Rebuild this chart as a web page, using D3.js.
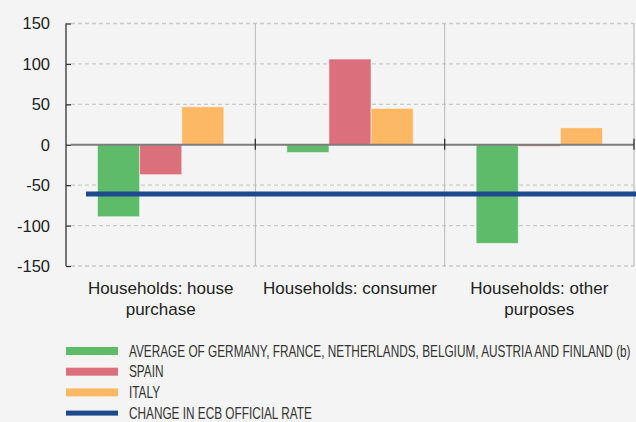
<!DOCTYPE html>
<html>
<head>
<meta charset="utf-8">
<script src="https://cdn.jsdelivr.net/npm/d3@7"></script>
<style>
  body { margin: 0; background: #f4f4f4; }
  svg { display: block; }
  .tick-label { font-family: "Liberation Sans", Arial, sans-serif; font-size: 16.5px; fill: #222; }
  .cat-label { font-family: "Liberation Sans", Arial, sans-serif; font-size: 17px; fill: #222; }
  .legend-label { font-family: "Liberation Sans", Arial, sans-serif; font-size: 16px; fill: #333; }
</style>
</head>
<body>
<script>
// categories and series
var categories = ["house", "consumer", "other"];
var categoryLabels = [["Households: house", "purchase"], ["Households: consumer"], ["Households: other", "purposes"]];
var seriesNames = ["AVERAGE OF GERMANY, FRANCE, NETHERLANDS, BELGIUM, AUSTRIA AND FINLAND (b)", "SPAIN", "ITALY"];
var avgValues = [-89, -9.5, -122];
var spainValues = [-37, 106, -2];
var italyValues = [47, 45, 21];
var ecbRate = -61;
var yTicks = [-150, -100, -50, 0, 50, 100, 150];
var lineName = "CHANGE IN ECB OFFICIAL RATE";

var colors = ["#5ebb6a", "#dc6f7c", "#fdb865"];
var lineColor = "#1c4a8c";

var w = 636, h = 422;

var svg = d3.select("body").append("svg")
    .attr("width", w)
    .attr("height", h);

svg.append("rect").attr("width", w).attr("height", h).attr("fill", "#f4f4f4");

var x = d3.scaleBand().domain(categories).range([66, 634]);
var y = d3.scaleLinear().domain([-150, 150]).range([266, 23.5]);
var x1 = d3.scaleBand().domain([0, 1, 2]).range([31.5, x.bandwidth() - 31.5]);

// gridlines
svg.append("g").selectAll("line")
    .data(yTicks.filter(function(d) { return d !== 0; }))
    .enter().append("line")
    .attr("x1", 71).attr("x2", 634)
    .attr("y1", function(d) { return y(d); })
    .attr("y2", function(d) { return y(d); })
    .attr("stroke", "#c9c9c9")
    .attr("stroke-width", 1.3)
    .attr("stroke-dasharray", "4,3");

// category dividers
svg.append("g").selectAll("line")
    .data(categories)
    .enter().append("line")
    .attr("x1", function(d) { return x(d) + x.bandwidth(); })
    .attr("x2", function(d) { return x(d) + x.bandwidth(); })
    .attr("y1", y(150)).attr("y2", y(-150))
    .attr("stroke", "#b8b8bc")
    .attr("stroke-width", 1);

// bars
var table = [avgValues, spainValues, italyValues];
var bars = [];
table.forEach(function(vals, s) {
    vals.forEach(function(v, i) { bars.push({ s: s, cat: categories[i], v: v }); });
});

svg.append("g").selectAll("rect")
    .data(bars)
    .enter().append("rect")
    .attr("x", function(d) { return x(d.cat) + x1(d.s); })
    .attr("width", x1.bandwidth())
    .attr("y", function(d) { return y(Math.max(0, d.v)); })
    .attr("height", function(d) { return Math.abs(y(d.v) - y(0)); })
    .attr("fill", function(d) { return colors[d.s]; })
    .attr("stroke", "rgba(255,255,255,0.45)")
    .attr("stroke-width", 1);

// zero line
svg.append("line")
    .attr("x1", 71).attr("x2", 634)
    .attr("y1", y(0)).attr("y2", y(0))
    .attr("stroke", "#7c7c7c")
    .attr("stroke-width", 2);

// ticks on the zero line at category boundaries
svg.append("g").selectAll("line")
    .data(categories)
    .enter().append("line")
    .attr("x1", function(d) { return x(d) + x.bandwidth(); })
    .attr("x2", function(d) { return x(d) + x.bandwidth(); })
    .attr("y1", y(0) - 6).attr("y2", y(0) + 5)
    .attr("stroke", "#333")
    .attr("stroke-width", 1.3);

// ECB rate line
svg.append("line")
    .attr("x1", x(categories[0]) + 20).attr("x2", w)
    .attr("y1", y(ecbRate)).attr("y2", y(ecbRate))
    .attr("stroke", lineColor)
    .attr("stroke-width", 5);

// y axis
var yAxis = svg.append("g")
    .attr("transform", "translate(66,0)")
    .call(d3.axisRight(y).tickValues(yTicks).tickSize(5).tickFormat(""));
yAxis.select(".domain").attr("stroke", "#333").attr("stroke-width", 1.3).attr("d", "M0," + y(150) + "V" + y(-150));
yAxis.selectAll(".tick line").attr("stroke", "#333").attr("stroke-width", 1.3);

svg.append("g").selectAll("text")
    .data(yTicks)
    .enter().append("text")
    .attr("class", "tick-label")
    .attr("x", 50)
    .attr("y", function(d) { return y(d); })
    .attr("dy", "0.36em")
    .attr("text-anchor", "end")
    .text(function(d) { return d; });

// category labels
var catText = svg.append("g").selectAll("text")
    .data(categories)
    .enter().append("text")
    .attr("class", "cat-label")
    .attr("text-anchor", "middle")
    .attr("x", function(d) { return x(d) + x.bandwidth() / 2; })
    .attr("y", 294);

catText.selectAll("tspan")
    .data(function(d, i) { return categoryLabels[i]; })
    .enter().append("tspan")
    .attr("x", function() { return d3.select(this.parentNode).attr("x"); })
    .attr("dy", function(d, i) { return i === 0 ? 0 : 21; })
    .text(function(d) { return d; });

// legend
var legendItems = seriesNames.map(function(n, i) { return { name: n, color: colors[i], line: false }; });
legendItems.push({ name: lineName, color: lineColor, line: true });

var legend = svg.append("g").selectAll("g")
    .data(legendItems)
    .enter().append("g")
    .attr("transform", function(d, i) { return "translate(66," + (351 + i * 20.7) + ")"; });

legend.append("rect")
    .attr("x", 0).attr("width", 52)
    .attr("y", function(d) { return d.line ? -2.5 : -4; })
    .attr("height", function(d) { return d.line ? 5 : 8; })
    .attr("fill", function(d) { return d.color; });

// condensed look: squeeze horizontally so the longest entry fits like the original
var legendText = legend.append("g")
    .attr("transform", "translate(63,0)")
    .append("text")
    .attr("class", "legend-label")
    .attr("dy", "0.36em")
    .text(function(d) { return d.name; });

var longest = d3.max(legendText.nodes(), function(n) { return n.getComputedTextLength(); });
var squeeze = 502 / longest;
legendText.attr("transform", "scale(" + squeeze + ",1)");
</script>
</body>
</html>
